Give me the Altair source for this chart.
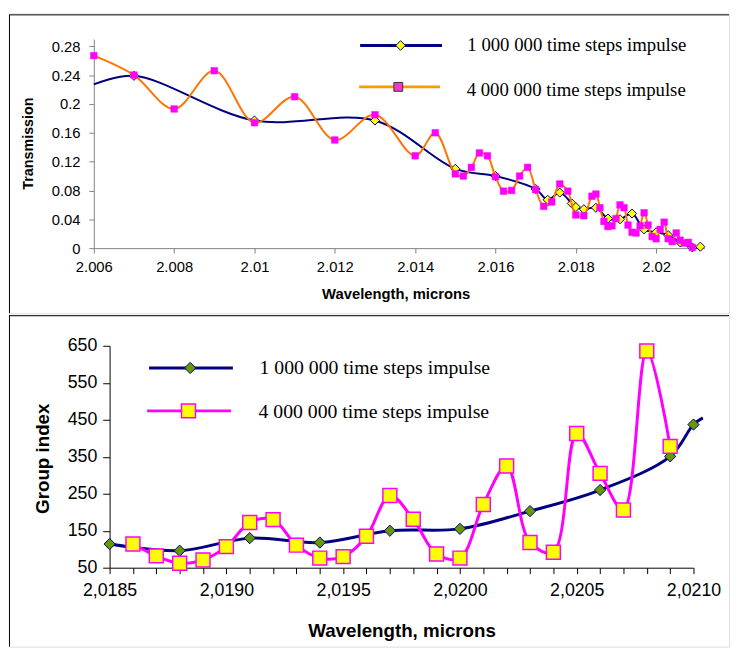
import altair as alt
import pandas as pd

# ---------------- data : top panel (Transmission) ----------------
top_1m_x = [2.006, 2.007, 2.010, 2.013, 2.015, 2.016, 2.017, 2.0173, 2.0176, 2.0179, 2.018,
            2.0182, 2.0185, 2.0188, 2.0191, 2.0194, 2.0197, 2.020, 2.0203, 2.0206, 2.0209, 2.0211]
top_1m_y = [0.227, 0.239, 0.177, 0.177, 0.110, 0.100, 0.082, 0.067, 0.077, 0.062, 0.057,
            0.054, 0.056, 0.041, 0.040, 0.048, 0.026, 0.022, 0.018, 0.008, 0.001, 0.002]
top_1m_marker = [False, True, True, True, True, True, True, True, True, True, True,
                 True, True, True, True, True, True, True, True, True, True, True]

top_4m_x = [2.006, 2.007, 2.008, 2.009, 2.010, 2.011, 2.012, 2.013, 2.014, 2.0145,
            2.015, 2.0152, 2.0154, 2.0156, 2.0158, 2.016, 2.0162, 2.0164, 2.0166, 2.0168,
            2.017, 2.0172, 2.0174, 2.0176, 2.0178, 2.018, 2.0182, 2.0184, 2.0185, 2.0186,
            2.0187, 2.0188, 2.0189, 2.019, 2.0191, 2.0192, 2.0193, 2.0194, 2.0195, 2.0196,
            2.0197, 2.0198, 2.0199, 2.020, 2.0201, 2.0202, 2.0203, 2.0204, 2.0205, 2.0206,
            2.0207, 2.0208, 2.0209]
top_4m_y = [0.267, 0.240, 0.193, 0.246, 0.174, 0.210, 0.150, 0.185, 0.128, 0.160,
            0.103, 0.100, 0.112, 0.132, 0.128, 0.099, 0.079, 0.080, 0.100, 0.112,
            0.081, 0.058, 0.064, 0.089, 0.079, 0.046, 0.045, 0.072, 0.075, 0.056,
            0.037, 0.030, 0.031, 0.041, 0.060, 0.056, 0.032, 0.022, 0.021, 0.031,
            0.049, 0.032, 0.016, 0.013, 0.026, 0.036, 0.013, 0.009, 0.021, 0.011,
            0.007, 0.008, 0.001]

# ---------------- data : bottom panel (Group index) ----------------
bot_1m_x = [2.0185, 2.0188, 2.0191, 2.0194, 2.0197, 2.0200, 2.0203, 2.0206, 2.0209, 2.0210, 2.02104]
bot_1m_y = [114, 96, 130, 118, 150, 155, 203, 260, 351, 437, 455]
bot_1m_marker = [True, True, True, True, True, True, True, True, True, True, False]

bot_4m_x = [2.0186, 2.0187, 2.0188, 2.0189, 2.0190, 2.0191, 2.0192, 2.0193, 2.0194, 2.0195,
            2.0196, 2.0197, 2.0198, 2.0199, 2.0200, 2.0201, 2.0202, 2.0203, 2.0204, 2.0205,
            2.0206, 2.0207, 2.0208, 2.0209]
bot_4m_y = [114, 82, 62, 71, 107, 172, 180, 111, 76, 80,
            135, 245, 181, 87, 76, 221, 325, 118, 92, 413,
            305, 206, 636, 378]

legend_labels = ["1 000 000 time steps impulse", "4 000 000 time steps impulse"]
x_title = "Wavelength, microns"
top_y_title = "Transmission"
bot_y_title = "Group index"

top_x_ticks = [2.006, 2.008, 2.010, 2.012, 2.014, 2.016, 2.018, 2.020]
top_y_ticks = [0, 0.04, 0.08, 0.12, 0.16, 0.20, 0.24, 0.28]
bot_x_ticks = [2.0185, 2.0186, 2.0187, 2.0188, 2.0189, 2.0190, 2.0191, 2.0192, 2.0193,
               2.0194, 2.0195, 2.0196, 2.0197, 2.0198, 2.0199, 2.0200, 2.0201, 2.0202,
               2.0203, 2.0204, 2.0205, 2.0206, 2.0207, 2.0208, 2.0209, 2.0210]
bot_y_ticks = [50, 150, 250, 350, 450, 550, 650]

# ---------------- styling ----------------
NAVY = "#000080"
ORANGE = "#FF7300"
MAGENTA = "#FF00FF"
YELLOW = "#FFFF00"
GREEN = "#669900"
SANS = "Liberation Sans"
SERIF = "Liberation Serif"

W = 730
TOP_H = 304
BOT_H = 336

top_1m = pd.DataFrame({"x": top_1m_x, "y": top_1m_y, "m": top_1m_marker})
top_4m = pd.DataFrame({"x": top_4m_x, "y": top_4m_y})
bot_1m = pd.DataFrame({"x": bot_1m_x, "y": bot_1m_y, "m": bot_1m_marker})
bot_4m = pd.DataFrame({"x": bot_4m_x, "y": bot_4m_y})

# ---- top encodings ----
xt = alt.X("x:Q",
           scale=alt.Scale(domain=[2.006, 2.0212], range=[86, 705], nice=False, zero=False),
           axis=alt.Axis(values=top_x_ticks, format=".3~f", title=x_title, offset=-66,
                         grid=False, tickSize=5, labelPadding=7, labelFontSize=15,
                         labelFont=SANS, labelColor="black", labelFlush=False,
                         labelOverlap=False, domainColor="#808080", tickColor="#808080",
                         titleFont=SANS, titleFontSize=15, titleFontWeight="bold",
                         titleColor="black", titleX=392, titleY=46.5,
                         titleBaseline="middle", titleAlign="center"))
yt = alt.Y("y:Q",
           scale=alt.Scale(domain=[0, 0.29], range=[238, 26], nice=False, zero=False),
           axis=alt.Axis(values=top_y_ticks, format=".2~f", title=top_y_title, offset=-86,
                         grid=False, tickSize=5, labelPadding=9, labelFontSize=15,
                         labelFont=SANS, labelColor="black", labelFlush=False,
                         labelOverlap=False, domainColor="#808080", tickColor="#808080",
                         titleFont=SANS, titleFontSize=14.5, titleFontWeight="bold",
                         titleColor="black", titleX=-66.5, titleY=131.5, titleAngle=270,
                         titleBaseline="middle", titleAlign="center"))

# ---- bottom encodings ----
xb = alt.X("x:Q",
           scale=alt.Scale(domain=[2.0185, 2.0210], range=[102, 694], nice=False, zero=False),
           axis=alt.Axis(values=bot_x_ticks,
                         labelExpr="abs(round(datum.value*10000)) % 5 == 0 ? replace(format(datum.value, '.4f'), '.', ',') : ''",
                         title=x_title, offset=-80, grid=False, tickSize=6, labelPadding=8,
                         labelFontSize=18, labelFont=SANS, labelColor="black",
                         labelFlush=False, labelOverlap=False, domainColor="black",
                         tickColor="black", titleFont=SANS, titleFontSize=19,
                         titleFontWeight="bold", titleColor="black", titleX=398, titleY=64,
                         titleBaseline="middle", titleAlign="center"))
yb = alt.Y("y:Q",
           scale=alt.Scale(domain=[50, 650], range=[256, 31], nice=False, zero=False),
           axis=alt.Axis(values=bot_y_ticks, title=bot_y_title, offset=-102, grid=False,
                         tickSize=7, labelPadding=6, labelFontSize=18, labelFont=SANS,
                         labelColor="black", labelFlush=False, labelOverlap=False,
                         domainColor="black", tickColor="black", titleFont=SANS,
                         titleFontSize=19, titleFontWeight="bold", titleColor="black",
                         titleX=-68, titleY=145, titleAngle=270, titleBaseline="middle",
                         titleAlign="center"))


def hline(x1, x2, y, color="black", width=1):
    return alt.Chart().mark_rule(color=color, strokeWidth=width).encode(
        x=alt.value(x1), x2=alt.value(x2), y=alt.value(y))


def vline(x, y1, y2):
    return alt.Chart().mark_rule(color="black", strokeWidth=1).encode(
        x=alt.value(x), y=alt.value(y1), y2=alt.value(y2))


def sym(x, y, shape, size, fill, stroke, sw=1):
    return alt.Chart().mark_point(shape=shape, size=size, filled=True, fill=fill,
                                  stroke=stroke, strokeWidth=sw, opacity=1).encode(
        x=alt.value(x), y=alt.value(y))


def label(x, y, text, size):
    return alt.Chart().mark_text(text=text, align="left", baseline="middle", font=SERIF,
                                 fontSize=size, color="black").encode(
        x=alt.value(x), y=alt.value(y))


# ---------------- top panel ----------------
t_line1 = alt.Chart(top_1m).mark_line(interpolate="catmull-rom", color=NAVY,
                                      strokeWidth=2).encode(x=xt, y=yt)
t_pts1 = alt.Chart(top_1m[top_1m["m"]]).mark_point(shape="diamond", size=85, filled=True,
                                                   fill=YELLOW, stroke=NAVY, strokeWidth=1,
                                                   opacity=1).encode(x=xt, y=yt)
t_line4 = alt.Chart(top_4m).mark_line(interpolate="catmull-rom", color=ORANGE,
                                      strokeWidth=2).encode(x=xt, y=yt)
t_pts4 = alt.Chart(top_4m).mark_point(shape="square", size=45, filled=True, fill=MAGENTA,
                                      stroke=MAGENTA, strokeWidth=0.5,
                                      opacity=1).encode(x=xt, y=yt)

top = alt.layer(
    hline(0, W, 1.5), vline(0.5, 1.5, TOP_H),
    t_line1, t_pts1, t_line4, t_pts4,
    hline(356, 439, 32.5, NAVY, 3), sym(397, 32.5, "diamond", 95, YELLOW, NAVY),
    label(464.7, 32, legend_labels[0], 19),
    hline(355, 437, 74.5, "#FF9900", 3), sym(394.7, 74.5, "square", 80, "#FF33CC", "#333333"),
    label(464, 77.5, legend_labels[1], 19),
).properties(width=W, height=TOP_H)

# ---------------- bottom panel ----------------
b_line1 = alt.Chart(bot_1m).mark_line(interpolate="catmull-rom", color=NAVY,
                                      strokeWidth=3).encode(x=xb, y=yb)
b_pts1 = alt.Chart(bot_1m[bot_1m["m"]]).mark_point(shape="diamond", size=130, filled=True,
                                                   fill=GREEN, stroke=NAVY, strokeWidth=1,
                                                   opacity=1).encode(x=xb, y=yb)
b_line4 = alt.Chart(bot_4m).mark_line(interpolate="catmull-rom", color=MAGENTA,
                                      strokeWidth=3).encode(x=xb, y=yb)
b_pts4 = alt.Chart(bot_4m).mark_point(shape="square", size=200, filled=True, fill=YELLOW,
                                      stroke=MAGENTA, strokeWidth=1.5,
                                      opacity=1).encode(x=xb, y=yb)

bottom = alt.layer(
    hline(0, W, 0.5), vline(0.5, 0, BOT_H),
    b_line1, b_pts1, b_line4, b_pts4,
    hline(142, 227, 53.5, NAVY, 3), sym(183.7, 53.5, "diamond", 130, GREEN, NAVY),
    label(254, 53.5, legend_labels[0], 20),
    hline(140, 225, 97, MAGENTA, 3), sym(182, 97, "square", 200, YELLOW, MAGENTA, 1.5),
    label(253, 98.5, legend_labels[1], 20),
).properties(width=W, height=BOT_H)

chart = alt.vconcat(top, bottom, spacing=0).properties(padding=0).configure_view(
    strokeWidth=0).configure(background="white")

chart.save("out.html", embed_options={"renderer": "svg", "actions": False})
